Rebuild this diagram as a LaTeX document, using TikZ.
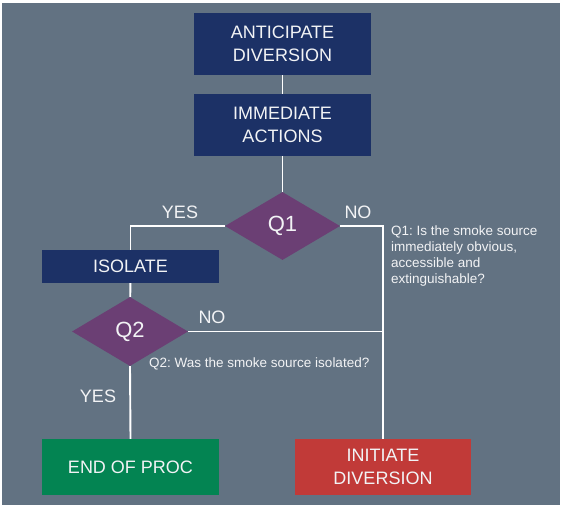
\documentclass[tikz,border=0pt]{standalone}
\usepackage{fontspec}
\setmainfont{Liberation Sans}
\usetikzlibrary{shapes.geometric}
\definecolor{bgc}{HTML}{627282}
\definecolor{navy}{HTML}{1C3166}
\definecolor{purp}{HTML}{6B3F74}
\definecolor{grn}{HTML}{038452}
\definecolor{rd}{HTML}{C13A38}
\definecolor{txt}{HTML}{F2F3F5}
\frenchspacing
\tikzset{
  box/.style={rectangle, inner sep=0pt, minimum width=177pt, text=txt, align=center,
    font=\fontsize{18}{22.7}\selectfont},
  dia/.style={diamond, fill=purp, inner sep=0pt, text=txt, font=\fontsize{22}{26}\selectfont},
  lbl/.style={text=txt, inner sep=0pt, font=\fontsize{18}{22}\selectfont},
  note/.style={text=txt, inner sep=0pt, align=left, font=\fontsize{13.5}{16}\selectfont},
  conn/.style={draw=white, line width=1.9pt}
}
\begin{document}
\begin{tikzpicture}[x=1pt,y=-1pt]
\useasboundingbox (0,0) rectangle (563,509);
\fill[white] (0,0) rectangle (563,509);
\fill[bgc] (2,3) rectangle (560,505);

\node[box, fill=navy, minimum height=62pt] (ant) at (282.5,44) {ANTICIPATE\\DIVERSION};
\node[box, fill=navy, minimum height=62pt] (imm) at (282.5,125) {IMMEDIATE\\ACTIONS};
\node[dia, minimum width=115pt, minimum height=68pt] (q1) at (282.5,226) {Q1};
\node[box, fill=navy, minimum height=33pt] (iso) at (130.5,266.5) {ISOLATE};
\node[dia, minimum width=116pt, minimum height=69pt] (q2) at (130,331.5) {Q2};
\node[box, fill=grn, minimum height=56pt] (end) at (130.5,467) {END OF PROC};
\node[box, fill=rd, minimum height=56pt, minimum width=176pt] (init) at (383,467) {INITIATE\\DIVERSION};
\coordinate (j) at (383,331.5);

\node[lbl] (yes1) at (180,212) {YES};
\node[lbl] (no1) at (358,212) {NO};
\node[lbl] (no2) at (212,317) {NO};
\node[lbl] (yes2) at (98,396) {YES};

\node[note, anchor=north west] (n1) at (391,225.5) {Q1: Is the smoke source\\immediately obvious,\\accessible and\\extinguishable?};
\node[note, anchor=base west] (n2) at (149,367.5) {Q2: Was the smoke source isolated?};

\draw[conn] (ant) -- (imm);
\draw[conn] (imm) -- (q1);
\draw[conn] (q1.west) -| (iso.north);
\draw[conn] (iso) -- (q2);
\draw[conn] (q2.south) -- (end.north);
\draw[conn] (q1.east) -| (init.north);
\draw[conn] (q2.east) -- (j);
\end{tikzpicture}
\end{document}
